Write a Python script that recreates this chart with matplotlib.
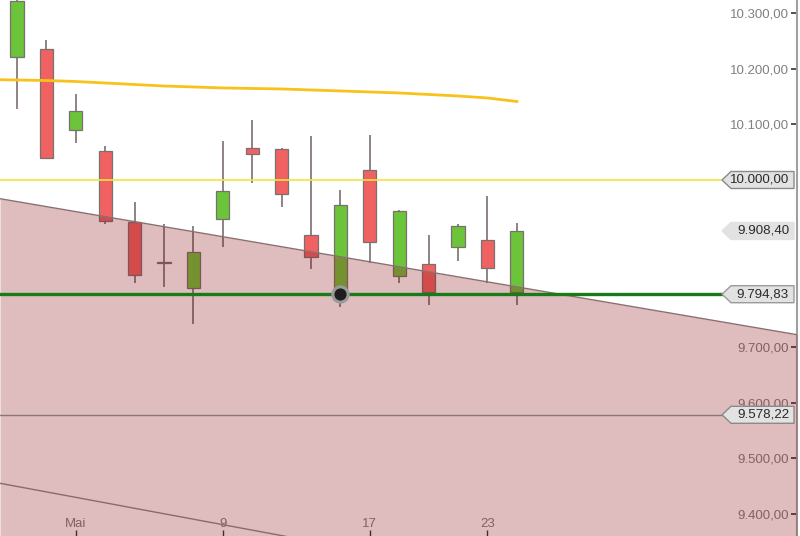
import numpy as np
import matplotlib
matplotlib.use('Agg')
import matplotlib.pyplot as plt
from matplotlib.patches import Polygon
from matplotlib.ticker import FuncFormatter
from matplotlib.transforms import blended_transform_factory

plt.rcParams['font.family'] = ['Liberation Sans', 'DejaVu Sans']

# daily candles (27.04. - 23.05.)
opens  = [10220.4, 10234.7, 10089.8, 10052.1, 9925.1, 9852.0, 9805.5, 9929.4, 10056.9,
          10055.7, 9901.2, 9794.83, 10018.0, 9828.1, 9849.1, 9879.1, 9892.2, 9798.3]
highs  = [10340.0, 10251.5, 10154.5, 10061.6, 9960.5, 9921.0, 9917.4, 10070.0, 10107.8,
          10057.0, 10079.0, 9982.0, 10080.8, 9946.0, 9901.2, 9920.4, 9971.3, 9923.3]
lows   = [10127.5, 10038.0, 10067.0, 9920.4, 9814.4, 9807.3, 9741.3, 9880.2, 9995.2,
          9951.0, 9839.6, 9771.3, 9850.4, 9814.4, 9775.5, 9854.5, 9814.4, 9775.5]
closes = [10322.0, 10039.0, 10123.9, 9926.9, 9828.8, 9851.0, 9871.2, 9980.8, 10046.2,
          9974.3, 9862.2, 9954.6, 9889.2, 9944.3, 9798.3, 9917.4, 9841.4, 9908.4]

# moving average, starts one day before first candle
ma_x = list(range(-1, 18))
ma_vals = [10180.5, 10179.6, 10178.7, 10176.9, 10174.2, 10171.5, 10168.8, 10167.1, 10165.3,
           10164.4, 10163.5, 10161.7, 10159.9, 10158.1, 10156.3, 10153.6, 10150.9, 10147.3, 10141.0]

# trend channel end points
chan_x = [-0.58, 26.53]
chan_upper = [9966.4, 9722.1]
chan_lower = [9455.2, 9189.3]

# horizontal levels
lvl_yellow = 10000.0
lvl_green = 9794.83
lvl_gray = 9578.22
last_close = 9908.40

xtick_pos = [2, 7, 12, 16]
xtick_lab = ['Mai', '9', '17', '23']
yticks = [9400, 9500, 9600, 9700, 10100, 10200, 10300]

fig = plt.figure(figsize=(8, 5.36), dpi=100)
ax = fig.add_axes([0, 0, 797 / 800, 1])
ax.set_xlim(-0.58, 26.53)
ax.set_ylim(9360.5, 10323.3)

x = np.arange(len(opens))
o = np.array(opens)
c = np.array(closes)
up = c >= o
body_col = np.where(up, '#6cc43a', '#f06262')

ax.vlines(x, lows, highs, color='#7a6e6e', lw=1.2, zorder=2)
ax.bar(x, np.maximum(np.abs(c - o), 2.5), bottom=np.minimum(o, c), width=0.45,
       color=body_col, edgecolor='#7a7070', lw=0.9, zorder=3)

ax.plot(ma_x, ma_vals, color='#f7c21a', lw=2, zorder=3)

# channel shading over candles
ax.fill_between(chan_x, chan_upper, [9360.5, 9360.5], color=(0.545, 0.06, 0.075),
                alpha=0.275, lw=0, zorder=4)
ax.plot(chan_x, chan_upper, color='#8a7070', lw=1, zorder=4)
ax.plot(chan_x, chan_lower, color='#8a6a6a', lw=1, zorder=4)

tip = 23.98
ax.plot([-0.58, tip], [lvl_yellow] * 2, color='#f5e43c', lw=1.2, zorder=3)
ax.plot([-0.58, tip], [lvl_green] * 2, color='#187a18', lw=2.4, zorder=5)
ax.plot([-0.58, tip], [lvl_gray] * 2, color='#8a7676', lw=1, zorder=5)

ax.plot(11, lvl_green, 'o', ms=11, mfc='#1e1e1e', mec='#9a9a9a', mew=2.2, zorder=7)

# price tags on the right
tr = blended_transform_factory(ax.transAxes, ax.transData)
h = 8.5 / 0.5567


def tag(y, txt, edge):
    x0, x1, x2 = 722 / 797, 731 / 797, 794 / 797
    pts = [(x0, y), (x1, y + h), (x2, y + h), (x2, y - h), (x1, y - h)]
    ax.add_patch(Polygon(pts, closed=True, transform=tr, facecolor='#e2e2e2',
                         edgecolor=edge, lw=1, zorder=8))
    ax.text(789 / 797, y, txt, transform=tr, ha='right', va='center',
            fontsize=9.6, color='#2a2a2a', zorder=9)


tag(lvl_yellow, '10.000,00', '#8a8a8a')
tag(last_close, '9.908,40', '#e2e2e2')
tag(lvl_green, '9.794,83', '#9a9a9a')
tag(lvl_gray, '9.578,22', '#8a8a8a')

# axes styling
for s in ['top', 'left', 'bottom']:
    ax.spines[s].set_visible(False)
ax.spines['right'].set_color('#a0a0a0')
ax.spines['right'].set_linewidth(1.5)

ax.yaxis.tick_right()
ax.set_yticks(yticks)
ax.yaxis.set_major_formatter(FuncFormatter(
    lambda v, p: '{:,.2f}'.format(v).replace(',', 'X').replace('.', ',').replace('X', '.')))
ax.tick_params(axis='y', direction='in', length=4, width=1.2, color='#333333',
               pad=-6, labelsize=9.5, labelcolor='#808080')
for lbl in ax.get_yticklabels():
    lbl.set_horizontalalignment('right')

ax.set_xticks(xtick_pos)
ax.set_xticklabels(xtick_lab)
ax.tick_params(axis='x', direction='in', length=4, width=1, color='#333333',
               pad=-13, labelsize=9.5, labelcolor='#808080')

fig.savefig('out.png', dpi=100)
